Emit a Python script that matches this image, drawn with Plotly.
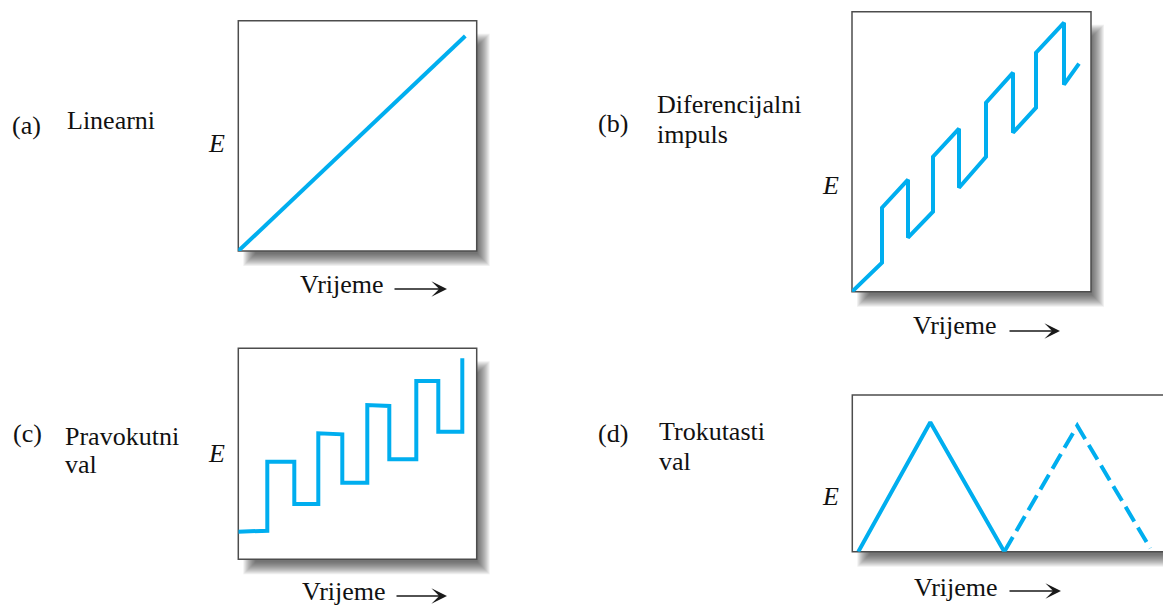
import plotly.graph_objects as go

# ---- waveform data (time vs. potential E, arbitrary units) ----
lin_t = [0, 227]
lin_e = [0, 215]

pulse_t = [0, 30, 30, 56, 56, 81, 81, 107, 107, 134, 134, 161, 161, 184, 184, 212, 212, 227]
pulse_e = [0, 29, 84, 112, 54, 80, 135, 163, 104, 135, 189, 219, 159, 184, 239, 269, 207, 228]

square_t = [0, 29, 29, 56, 56, 80, 80, 104, 104, 129, 129, 151, 151, 178, 178, 200, 200, 224, 224]
square_e = [27.6, 28.6, 97.6, 97.6, 55.3, 55.3, 126, 125, 76.6, 76.6, 154.3, 153.3, 100, 100, 178.3, 178.3, 127.6, 127.6, 201]

tri_t = [6, 78, 152]
tri_e = [0, 129.4, 0]
tri_next_t = [152, 225, 298]
tri_next_e = [0, 126, 3.4]

panel_letters = ["(a)", "(b)", "(c)", "(d)"]
panel_names = [["Linearni"], ["Diferencijalni", "impuls"], ["Pravokutni", "val"], ["Trokutasti", "val"]]
x_label = "Vrijeme"
y_label = "E"

# ---- layout constants (pixels) ----
W, H = 1163, 607
FONT = "Liberation Serif, Times New Roman, DejaVu Serif, serif"
FS = 26
BLUE = "#00aeef"
LW = 4

# frame of each panel: left, top, right, bottom
frames = [
    (238.3, 20.7, 476.7, 251.0),
    (852.0, 11.7, 1091.0, 291.7),
    (238.3, 348.3, 476.7, 559.3),
    (852.3, 395.0, 1175.0, 551.7),
]


def fx(x):
    return x / W


def fy(y):
    return 1 - y / H


fig = go.Figure()

series = [
    [(lin_t, lin_e, "solid")],
    [(pulse_t, pulse_e, "solid")],
    [(square_t, square_e, "solid")],
    [(tri_t, tri_e, "solid"), (tri_next_t, tri_next_e, "17px,7px")],
]

shapes = []
for i, (L, T, R, B) in enumerate(frames):
    n = "" if i == 0 else str(i + 1)
    Rd = min(R, W)
    fig.update_layout(**{
        f"xaxis{n}": dict(domain=[fx(L), fx(Rd)], range=[0, Rd - L], visible=False,
                          fixedrange=True, anchor=f"y{n}"),
        f"yaxis{n}": dict(domain=[fy(B), fy(T)], range=[0, B - T], visible=False,
                          fixedrange=True, anchor=f"x{n}"),
    })
    for t, e, dash in series[i]:
        fig.add_trace(go.Scatter(x=t, y=e, mode="lines", xaxis=f"x{n}", yaxis=f"y{n}",
                                 line=dict(color=BLUE, width=LW, dash=dash),
                                 hoverinfo="skip", showlegend=False))

    # soft drop shadow, built from stacked translucent rectangles
    sL, sT, sR, sB = L + 5, T + 13, R + 13, B + 15
    for j in range(13):
        shapes.append(dict(type="rect", xref="paper", yref="paper", layer="below",
                           x0=fx(sL + j), x1=fx(sR - j), y0=fy(sB - j), y1=fy(sT + j),
                           line=dict(width=0), fillcolor="rgba(30,30,30,0.065)"))
    shapes.append(dict(type="rect", xref="paper", yref="paper", layer="below",
                       x0=fx(L), x1=fx(R), y0=fy(B), y1=fy(T),
                       line=dict(color="#4d4d4d", width=1.5), fillcolor="white"))

# ---- text ----
annotations = []


def label(text, x, baseline, size=FS):
    annotations.append(dict(text=text, x=fx(x), y=fy(baseline - 0.33 * size),
                            xref="paper", yref="paper", xanchor="left", yanchor="middle",
                            showarrow=False, font=dict(family=FONT, size=size, color="#111")))


letter_pos = [(10, 134), (596, 132.5), (11, 442.5), (596, 442)]
name_pos = [[(65, 129)], [(655, 113), (655, 143)], [(63, 445), (63, 473)], [(657, 440), (657, 470)]]
e_pos = [(206, 152), (820, 194), (206, 462), (820, 505)]
t_pos = [(298, 293), (911, 334), (300, 600), (912, 596)]
arrow_pos = [(393, 447, 289), (1008, 1060, 331), (395, 447, 596), (1008, 1061, 591)]

for i in range(4):
    label(panel_letters[i], *letter_pos[i])
    for name, (x, b) in zip(panel_names[i], name_pos[i]):
        label(name, x, b)
    label(f"<i>{y_label}</i>", *e_pos[i])
    label(x_label, *t_pos[i])
    x0, x1, y = arrow_pos[i]
    annotations.append(dict(text="", x=fx(x1), y=fy(y), xref="paper", yref="paper",
                            ax=-(x1 - x0), ay=0, showarrow=True, arrowhead=3,
                            arrowsize=2.0, arrowwidth=1.3, arrowcolor="#1a1a1a", standoff=0))

fig.update_layout(
    width=W, height=H,
    margin=dict(l=0, r=0, t=0, b=0),
    paper_bgcolor="white",
    plot_bgcolor="rgba(0,0,0,0)",
    shapes=shapes,
    annotations=annotations,
)

fig.write_html("out.html")
